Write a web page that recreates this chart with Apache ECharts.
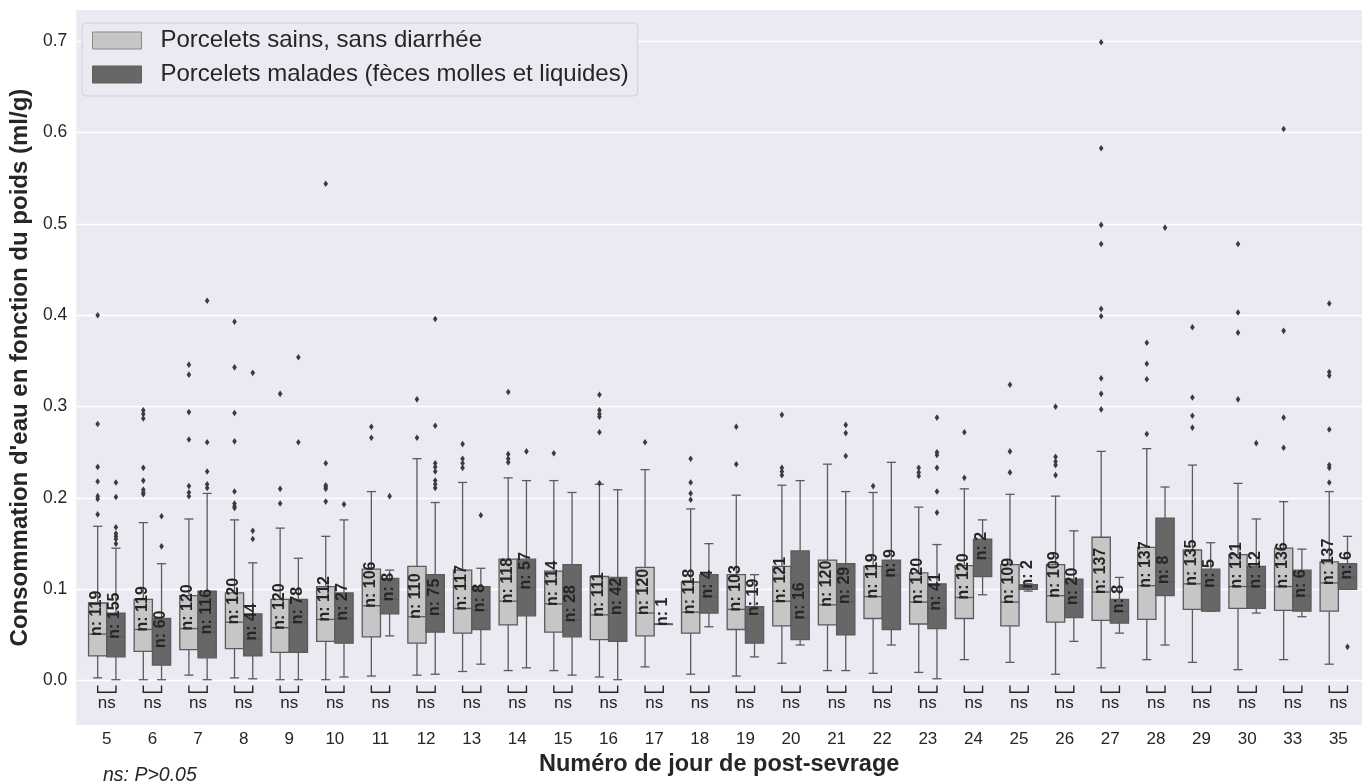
<!DOCTYPE html>
<html>
<head>
<meta charset="utf-8">
<title>Consommation d'eau post-sevrage</title>
<script src="https://cdn.jsdelivr.net/npm/echarts/dist/echarts.min.js"></script>
<style>
  html, body { margin: 0; background: #fff; }
  #chart { width: 1362px; height: 782px; }
</style>
</head>
<body>
<div id="chart"></div>
<script>
// jours post-sevrage
const days = ['5', '6', '7', '8', '9', '10', '11', '12', '13', '14', '15', '16', '17', '18',
  '19', '20', '21', '22', '23', '24', '25', '26', '27', '28', '29', '30', '33', '35'];
const yTicks = [0, 0.1, 0.2, 0.3, 0.4, 0.5, 0.6, 0.7];

// porcelets sains : moustache basse, Q1, médiane, Q3, moustache haute, effectif
const sainsLow = [0.003, 0.001, 0.006, 0.003, 0.001, 0.001, 0.005, 0.006, 0.010, 0.011, 0.011, 0.004, 0.015, 0.007,
  0.005, 0.019, 0.011, 0.008, 0.009, 0.023, 0.020, 0.007, 0.014, 0.023, 0.020, 0.012, 0.023, 0.018];
const sainsQ1 = [0.027, 0.032, 0.034, 0.035, 0.031, 0.043, 0.048, 0.041, 0.052, 0.061, 0.053, 0.045, 0.049, 0.052,
  0.056, 0.060, 0.061, 0.068, 0.062, 0.068, 0.060, 0.064, 0.066, 0.067, 0.078, 0.079, 0.077, 0.076];
const sainsMed = [0.051, 0.056, 0.057, 0.064, 0.058, 0.067, 0.082, 0.070, 0.079, 0.087, 0.084, 0.072, 0.074, 0.075,
  0.078, 0.087, 0.083, 0.092, 0.086, 0.091, 0.086, 0.093, 0.097, 0.104, 0.106, 0.103, 0.103, 0.107];
const sainsQ3 = [0.085, 0.089, 0.093, 0.096, 0.089, 0.103, 0.122, 0.125, 0.121, 0.133, 0.120, 0.114, 0.124, 0.108,
  0.116, 0.125, 0.132, 0.125, 0.118, 0.126, 0.127, 0.127, 0.157, 0.146, 0.143, 0.138, 0.145, 0.130];
const sainsHigh = [0.169, 0.173, 0.177, 0.176, 0.167, 0.158, 0.207, 0.243, 0.217, 0.222, 0.219, 0.215, 0.231, 0.188,
  0.203, 0.214, 0.237, 0.206, 0.190, 0.210, 0.204, 0.202, 0.251, 0.254, 0.236, 0.216, 0.196, 0.207];
const sainsN = [119, 119, 120, 120, 120, 112, 106, 110, 117, 118, 114, 111, 120, 118,
  103, 121, 120, 119, 120, 120, 109, 109, 137, 137, 135, 121, 136, 137];
const sainsOut = [
  [0.182, 0.199, 0.202, 0.218, 0.234, 0.281, 0.400],
  [0.204, 0.206, 0.209, 0.219, 0.233, 0.287, 0.292, 0.296],
  [0.202, 0.206, 0.213, 0.264, 0.294, 0.335, 0.346],
  [0.189, 0.191, 0.194, 0.207, 0.262, 0.293, 0.343, 0.393],
  [0.194, 0.210, 0.314],
  [0.196, 0.210, 0.212, 0.214, 0.238, 0.544],
  [0.266, 0.278],
  [0.266, 0.308],
  [0.233, 0.238, 0.243, 0.259],
  [0.239, 0.243, 0.248, 0.316],
  [0.249],
  [0.216, 0.272, 0.289, 0.292, 0.296, 0.313],
  [0.261],
  [0.198, 0.205, 0.217, 0.243],
  [0.237, 0.278],
  [0.225, 0.229, 0.233, 0.291],
  [],
  [0.213],
  [0.224, 0.228, 0.233],
  [0.222, 0.272],
  [0.228, 0.251, 0.324],
  [0.225, 0.236, 0.240, 0.245, 0.300],
  [0.297, 0.314, 0.331, 0.399, 0.407, 0.478, 0.499, 0.583, 0.699],
  [0.270, 0.330, 0.347, 0.370],
  [0.277, 0.290, 0.310, 0.387],
  [0.308, 0.381, 0.403, 0.478],
  [0.255, 0.288, 0.383, 0.604],
  [0.217, 0.233, 0.236, 0.275, 0.334, 0.338, 0.413]
];

// porcelets malades
const maladesLow = [0.001, 0.001, 0.001, 0.002, 0.001, 0.004, 0.049, 0.007, 0.018, 0.014, 0.006, 0.001, 0.062, 0.059,
  0.026, 0.039, 0.011, 0.039, 0.002, 0.094, 0.098, 0.043, 0.052, 0.039, 0.076, 0.074, 0.070, 0.100];
const maladesQ1 = [0.026, 0.017, 0.025, 0.027, 0.031, 0.041, 0.073, 0.053, 0.056, 0.071, 0.048, 0.043, 0.062, 0.074,
  0.041, 0.045, 0.050, 0.056, 0.057, 0.114, 0.100, 0.069, 0.063, 0.093, 0.076, 0.079, 0.076, 0.100];
const maladesMed = [0.048, 0.038, 0.053, 0.046, 0.064, 0.068, 0.089, 0.073, 0.077, 0.102, 0.066, 0.074, 0.062, 0.092,
  0.073, 0.069, 0.086, 0.115, 0.079, 0.134, 0.103, 0.085, 0.076, 0.108, 0.104, 0.103, 0.093, 0.113];
const maladesQ3 = [0.074, 0.068, 0.098, 0.073, 0.089, 0.096, 0.112, 0.116, 0.103, 0.133, 0.127, 0.113, 0.062, 0.116,
  0.081, 0.142, 0.128, 0.132, 0.106, 0.155, 0.105, 0.111, 0.089, 0.178, 0.122, 0.125, 0.121, 0.128];
const maladesHigh = [0.145, 0.128, 0.205, 0.129, 0.134, 0.176, 0.121, 0.195, 0.123, 0.219, 0.206, 0.209, 0.062, 0.150,
  0.116, 0.219, 0.207, 0.239, 0.149, 0.176, 0.106, 0.164, 0.113, 0.212, 0.151, 0.177, 0.144, 0.158];
const maladesN = [155, 60, 116, 44, 78, 27, 8, 75, 8, 57, 28, 42, 1, 4,
  19, 16, 29, 9, 41, 2, 2, 20, 8, 8, 5, 12, 6, 6];
const maladesOut = [
  [0.150, 0.155, 0.158, 0.161, 0.168, 0.201, 0.217],
  [0.147, 0.180],
  [0.211, 0.215, 0.229, 0.261, 0.416],
  [0.155, 0.164, 0.337],
  [0.261, 0.354],
  [0.193],
  [0.202],
  [0.211, 0.215, 0.219, 0.229, 0.234, 0.238, 0.279, 0.396],
  [0.181],
  [0.251],
  [], [], [], [], [], [],
  [0.246, 0.271, 0.280],
  [],
  [0.184, 0.207, 0.233, 0.247, 0.250, 0.288],
  [], [], [], [],
  [0.496],
  [],
  [0.260],
  [],
  [0.037]
];

const signif = days.map(() => 'ns');

const nomSains = 'Porcelets sains, sans diarrhée';
const nomMalades = 'Porcelets malades (fèces molles et liquides)';

const FONT = '"Liberation Sans", Arial, Helvetica, sans-serif';
const TXT = '#262626';
const EDGE = '#5b5b5b';
const FILL_SAINS = '#c6c6c6';
const FILL_MALADES = '#676767';

function boxData(lo, q1, md, q3, hi, n) {
  return days.map((d, i) => [i, lo[i], q1[i], md[i], q3[i], hi[i], n[i]]);
}

function renderBox(off, fill) {
  return function (params, api) {
    const i = api.value(0);
    const x = api.coord([i + off, 0])[0];
    const w = api.size([0.4, 0])[0];
    const y = v => api.coord([0, v])[1];
    const lo = y(api.value(1)), q1 = y(api.value(2)), md = y(api.value(3));
    const q3 = y(api.value(4)), hi = y(api.value(5));
    const ln = { stroke: EDGE, lineWidth: 1.3 };
    const cw = w / 4;
    return {
      type: 'group',
      children: [
        { type: 'line', shape: { x1: x, y1: lo, x2: x, y2: q1 }, style: ln },
        { type: 'line', shape: { x1: x, y1: q3, x2: x, y2: hi }, style: ln },
        { type: 'line', shape: { x1: x - cw, y1: lo, x2: x + cw, y2: lo }, style: ln },
        { type: 'line', shape: { x1: x - cw, y1: hi, x2: x + cw, y2: hi }, style: ln },
        { type: 'rect', shape: { x: x - w / 2, y: q3, width: w, height: Math.max(q1 - q3, 0.5) },
          style: { fill: fill, stroke: EDGE, lineWidth: 1.3 } },
        { type: 'line', shape: { x1: x - w / 2, y1: md, x2: x + w / 2, y2: md }, style: ln },
        { type: 'text', x: x - 1, y: md + 2, rotation: Math.PI / 2,
          style: { text: 'n: ' + api.value(6), fill: TXT, fontFamily: FONT, fontWeight: 'bold',
                   fontSize: 16, align: 'left', verticalAlign: 'middle' } }
      ]
    };
  };
}

const fliers = [];
sainsOut.forEach((arr, i) => arr.forEach(v => fliers.push([i, 0, v])));
maladesOut.forEach((arr, i) => arr.forEach(v => fliers.push([i, 1, v])));

function renderFlier(params, api) {
  const p = api.coord([api.value(0) + (api.value(1) ? 0.2 : -0.2), api.value(2)]);
  return {
    type: 'polygon',
    shape: { points: [[p[0], p[1] - 3.3], [p[0] + 2.3, p[1]], [p[0], p[1] + 3.3], [p[0] - 2.3, p[1]]] },
    style: { fill: '#3b3b3b' }
  };
}

const BRACKET_TOP = -0.0054, BRACKET_BOTTOM = -0.0128, NS_LEVEL = -0.0250;
function renderBracket(params, api) {
  const i = api.value(0);
  const a = api.coord([i - 0.2, BRACKET_TOP]);
  const b = api.coord([i + 0.2, BRACKET_BOTTOM]);
  const t = api.coord([i, NS_LEVEL]);
  return {
    type: 'group',
    children: [
      { type: 'polyline', shape: { points: [[a[0], a[1]], [a[0], b[1]], [b[0], b[1]], [b[0], a[1]]] },
        style: { stroke: TXT, lineWidth: 1.4, fill: null } },
      { type: 'text', x: t[0], y: t[1],
        style: { text: signif[i], fill: TXT, fontFamily: FONT, fontSize: 17, align: 'center', verticalAlign: 'middle' } }
    ]
  };
}

const chart = echarts.init(document.getElementById('chart'));
chart.setOption({
  backgroundColor: '#ffffff',
  animation: false,
  textStyle: { fontFamily: FONT },
  grid: { left: 71, right: 0, top: 10, bottom: 49, show: true, backgroundColor: '#eaeaf2', borderWidth: 0 },
  legend: {
    left: 82, top: 23,
    orient: 'vertical',
    icon: 'rect',
    itemWidth: 49, itemHeight: 17, itemGap: 6,
    padding: [3.5, 9, 7.5, 10],
    backgroundColor: '#eaeaf2',
    borderColor: '#cfcfd6', borderWidth: 1, borderRadius: 4,
    selectedMode: false,
    textStyle: { fontSize: 24, color: TXT, lineHeight: 28, padding: [0, 0, 0, 14] },
    data: [
      { name: nomSains, itemStyle: { color: FILL_SAINS, borderColor: '#8a8a8a', borderWidth: 1 } },
      { name: nomMalades, itemStyle: { color: FILL_MALADES, borderColor: '#5f5f5f', borderWidth: 1 } }
    ]
  },
  xAxis: {
    type: 'value',
    min: -0.6703, max: 27.518,
    axisLine: { show: false }, axisTick: { show: false }, splitLine: { show: false },
    axisLabel: {
      customValues: days.map((d, i) => i),
      formatter: v => days[Math.round(v)] || '',
      fontSize: 17, color: TXT, margin: 6
    },
    name: 'Numéro de jour de post-sevrage',
    nameLocation: 'middle', nameGap: 18,
    nameTextStyle: { fontSize: 23.5, fontWeight: 'bold', color: TXT }
  },
  yAxis: {
    type: 'value',
    min: -0.0487, max: 0.7343,
    splitNumber: 8, minInterval: 0.1, maxInterval: 0.1,
    axisLine: { show: false }, axisTick: { show: false },
    splitLine: { show: true, showMinLine: false, showMaxLine: false, lineStyle: { color: '#ffffff', width: 1.3 } },
    axisLabel: {
      customValues: yTicks,
      formatter: v => v.toFixed(1),
      fontSize: 17.5, color: TXT, margin: 9
    },
    name: "Consommation d'eau en fonction du poids (ml/g)",
    nameLocation: 'middle', nameGap: 40,
    nameTextStyle: { fontSize: 24, fontWeight: 'bold', color: TXT }
  },
  graphic: [
    { type: 'text', left: 103, top: 766,
      style: { text: 'ns: P>0.05', fill: TXT, fontFamily: FONT, fontSize: 19.5, fontStyle: 'italic' } }
  ],
  series: [
    { type: 'custom', name: nomSains, itemStyle: { color: FILL_SAINS },
      encode: { x: 0, y: [1, 2, 3, 4, 5] },
      data: boxData(sainsLow, sainsQ1, sainsMed, sainsQ3, sainsHigh, sainsN),
      renderItem: renderBox(-0.2, FILL_SAINS) },
    { type: 'custom', name: nomMalades, itemStyle: { color: FILL_MALADES },
      encode: { x: 0, y: [1, 2, 3, 4, 5] },
      data: boxData(maladesLow, maladesQ1, maladesMed, maladesQ3, maladesHigh, maladesN),
      renderItem: renderBox(0.2, FILL_MALADES) },
    { type: 'custom', encode: { x: 0, y: 2 }, data: fliers, renderItem: renderFlier, z: 3 },
    { type: 'custom', encode: { x: 0 }, data: days.map((d, i) => [i]), renderItem: renderBracket }
  ]
});
</script>
</body>
</html>
